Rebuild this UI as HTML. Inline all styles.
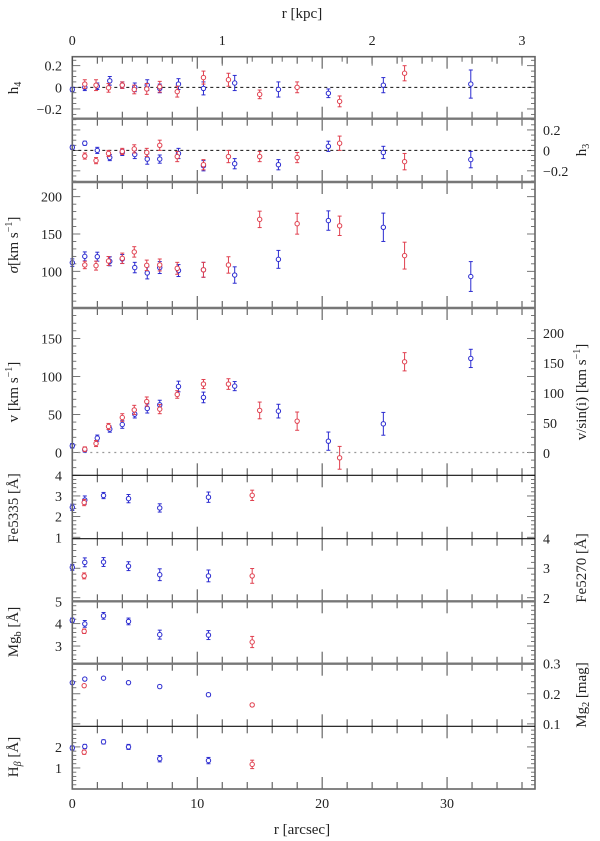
<!DOCTYPE html>
<html><head><meta charset="utf-8"><style>
html,body{margin:0;padding:0;background:#fff;}
svg{display:block;}
text{font-family:"Liberation Serif",serif;fill:#222;}
</style></head><body>
<svg id="chart" width="600" height="841" viewBox="0 0 600 841" xmlns="http://www.w3.org/2000/svg"></svg>
<script>
// ---- shared x values (arcsec) ----
const xKinBlue = [0,1.0,2.0,3.0,4.0,5.0,6.0,7.0,8.5,10.5,13.0,16.5,20.5,24.9,31.9];
const xKinRed  = [1.0,1.9,2.9,4.0,4.96,5.96,7.0,8.4,10.5,12.5,15.0,18.0,21.4,26.6];
const xIdxBlue = [0,1.0,2.5,4.5,7.0,10.9];
const xIdxRed  = [0.95,14.4];
// ---- h4 ----
const h4Blue = [-0.02,0,0.01,0.06,0.02,0,0.02,-0.01,0.03,-0.01,0.04,-0.02,-0.055,0.02,0.03];
const h4BlueErr = [0.02,0.03,0.03,0.04,0.03,0.04,0.05,0.04,0.05,0.06,0.07,0.07,0.04,0.07,0.13];
const h4Red = [0.03,0.02,-0.005,0.02,-0.02,-0.015,0.005,-0.04,0.09,0.07,-0.065,0,-0.13,0.13];
const h4RedErr = [0.04,0.05,0.04,0.03,0.04,0.05,0.05,0.05,0.06,0.06,0.04,0.05,0.05,0.07];
// ---- h3 ----
const h3Blue = [0.03,0.07,0,-0.07,-0.02,-0.04,-0.085,-0.085,-0.03,-0.15,-0.13,-0.14,0.04,-0.02,-0.09];
const h3BlueErr = [0.02,0.02,0.03,0.03,0.03,0.04,0.05,0.04,0.05,0.05,0.05,0.05,0.05,0.06,0.08];
const h3Red = [-0.055,-0.1,-0.03,-0.01,0.015,-0.02,0.05,-0.06,-0.14,-0.06,-0.06,-0.07,0.07,-0.11];
const h3RedErr = [0.03,0.03,0.03,0.03,0.04,0.04,0.05,0.05,0.05,0.06,0.05,0.05,0.07,0.08];
// ---- sigma ----
const sigBlue = [111.6,120,119.6,113.4,116.5,105,97.8,105,101,102,95,116,168,159,93];
const sigBlueErr = [5,6,6,6,6,7,8,8,8,10,11,12,13,19,20];
const sigRed = [108.5,107.6,113.8,117.4,126,108,108.5,104,102,108.5,169.6,163.8,161,121];
const sigRedErr = [5,6,6,7,7,7,8,8,10,11,11,14,13,18];
// ---- rotation velocity ----
const velBlue = [8.8,3.5,18.9,30.7,36.8,50.4,57.9,62.7,86.8,72.4,87.3,54.4,14.9,37.7,123.7];
const velBlueErr = [3,3,4,4,5,5,6,6,7,7,6,9,12,15,12];
const velRed = [4.4,11.8,34.2,46,56,67,57,76.3,90,90,55.3,41.2,-7,119.3];
const velRedErr = [3,4,4,5,6,6,6,5,6,7,11,12,15,12];
// ---- line indices ----
const fe5335Blue = [2.45,2.8,3.02,2.87,2.42,2.94];
const fe5335BlueErr = [0.15,0.2,0.15,0.2,0.2,0.25];
const fe5335Red = [2.68,3.03];
const fe5335RedErr = [0.15,0.25];
const fe5270Blue = [3.03,3.2,3.21,3.07,2.78,2.74];
const fe5270BlueErr = [0.1,0.15,0.15,0.15,0.2,0.2];
const fe5270Red = [2.74,2.74];
const fe5270RedErr = [0.1,0.25];
const mgbBlue = [4.15,3.99,4.35,4.1,3.51,3.49];
const mgbBlueErr = [0.1,0.15,0.15,0.15,0.2,0.2];
const mgbRed = [3.66,3.18];
const mgbRedErr = [0.1,0.25];
const mg2Blue = [0.237,0.249,0.252,0.237,0.224,0.197];
const mg2BlueErr = [0.004,0.004,0.004,0.004,0.005,0.005];
const mg2Red = [0.227,0.163];
const mg2RedErr = [0.004,0.005];
const hbBlue = [1.95,2.02,2.24,2.0,1.44,1.35];
const hbBlueErr = [0.1,0.1,0.1,0.12,0.15,0.15];
const hbRed = [1.75,1.17];
const hbRedErr = [0.1,0.2];
// tick labels
const xTickLabels = [0,10,20,30];
const kpcTickLabels = [0,1,2,3];

const NS="http://www.w3.org/2000/svg";
const svg=document.getElementById('chart');
const X0=72.3, X1=535, XMAX=37.04;
function sx(v){return X0+(v/XMAX)*(X1-X0);}
function el(tag,attrs,parent){const e=document.createElementNS(NS,tag);for(const k in attrs)e.setAttribute(k,attrs[k]);(parent||svg).appendChild(e);return e;}
const BLUE="#2b2bd0", RED="#e0404f";

const panels=[
 {name:'h4',top:56.7,bot:118.7,min:-0.29,max:0.283,major:0.2,minor:0.05,side:'L',ticks:[-0.2,0,0.2],fmt:v=>v==0?'0':(v<0?'\u22120.2':'0.2'),zero:'dash',
  series:[[xKinBlue,h4Blue,h4BlueErr,BLUE],[xKinRed,h4Red,h4RedErr,RED]]},
 {name:'h3',top:118.7,bot:182,min:-0.309,max:0.31,major:0.2,minor:0.05,side:'R',ticks:[-0.2,0,0.2],fmt:v=>v==0?'0':(v<0?'\u22120.2':'0.2'),zero:'dash',
  series:[[xKinBlue,h3Blue,h3BlueErr,BLUE],[xKinRed,h3Red,h3RedErr,RED]]},
 {name:'sigma',top:182,bot:308,min:50.8,max:219.7,major:50,minor:10,side:'L',ticks:[100,150,200],fmt:v=>String(v),
  series:[[xKinBlue,sigBlue,sigBlueErr,BLUE],[xKinRed,sigRed,sigRedErr,RED]]},
 {name:'velocity',top:308,bot:475.3,min:-30,max:190,major:50,minor:10,side:'L',ticks:[0,50,100,150],fmt:v=>String(v),zero:'dot',
  series:[[xKinBlue,velBlue,velBlueErr,BLUE],[xKinRed,velRed,velRedErr,RED]]},
 {name:'fe5335',top:475.3,bot:538.7,min:0.93,max:4,major:1,minor:0.2,side:'L',ticks:[1,2,3,4],fmt:v=>String(v),
  series:[[xIdxBlue,fe5335Blue,fe5335BlueErr,BLUE],[xIdxRed,fe5335Red,fe5335RedErr,RED]]},
 {name:'fe5270',top:538.7,bot:601.3,min:1.88,max:4,major:1,minor:0.2,side:'R',ticks:[2,3,4],fmt:v=>String(v),
  series:[[xIdxBlue,fe5270Blue,fe5270BlueErr,BLUE],[xIdxRed,fe5270Red,fe5270RedErr,RED]]},
 {name:'mgb',top:601.3,bot:663.7,min:2.21,max:5,major:1,minor:0.2,side:'L',ticks:[3,4,5],fmt:v=>String(v),
  series:[[xIdxBlue,mgbBlue,mgbBlueErr,BLUE],[xIdxRed,mgbRed,mgbRedErr,RED]]},
 {name:'mg2',top:663.7,bot:726.3,min:0.092,max:0.3,major:0.1,minor:0.02,side:'R',ticks:[0.1,0.2,0.3],fmt:v=>v.toFixed(1),
  series:[[xIdxBlue,mg2Blue,mg2BlueErr,BLUE],[xIdxRed,mg2Red,mg2RedErr,RED]]},
 {name:'hbeta',top:726.3,bot:789,min:0,max:2.98,major:1,minor:0.2,side:'L',ticks:[1,2],fmt:v=>String(v),
  series:[[xIdxBlue,hbBlue,hbBlueErr,BLUE],[xIdxRed,hbRed,hbRedErr,RED]]}
];

panels.forEach(p=>{
  const g=el('g',{});
  
  
  const sy=v=>p.bot-(v-p.min)/(p.max-p.min)*(p.bot-p.top);
  // y ticks both sides
  const start=Math.ceil(p.min/p.minor-1e-6);
  for(let k=start;k*p.minor<=p.max+1e-9;k++){
    const v=k*p.minor; const y=sy(v);
    const isMaj=Math.abs(v/p.major-Math.round(v/p.major))<1e-6;
    const L=isMaj?8:4;
    el('line',{x1:X0,x2:X0+L,y1:y,y2:y,stroke:'#555','stroke-width':0.8},g);
    el('line',{x1:X1,x2:X1-L,y1:y,y2:y,stroke:'#555','stroke-width':0.8},g);
  }
  // x ticks
  for(let a=0;a<=XMAX;a+=2){
    const x=sx(a); const L=(a%10==0)?12:7;
    el('line',{x1:x,x2:x,y1:p.bot,y2:p.bot-L,stroke:'#333','stroke-width':0.9},g);
    el('line',{x1:x,x2:x,y1:p.top,y2:p.top+L,stroke:'#333','stroke-width':0.9},g);
  }
  // tick labels
  p.ticks.forEach(v=>{
    const t=el('text',{x:p.side=='L'?62:543,y:sy(v)+5,'font-size':14,'text-anchor':p.side=='L'?'end':'start'},g);
    t.textContent=p.fmt(v);
    
    
  });
  if(p.zero){
    const zl=el('line',{x1:X0,x2:X1,y1:sy(0),y2:sy(0),stroke:p.zero=='dash'?'#111':'#999','stroke-width':p.zero=='dash'?1:1.2,'stroke-dasharray':p.zero=='dash'?'3,3':'2,4'},g);
    
    
  }
  p.series.forEach((s,si)=>{
    const [xs,ys,es,col]=s;
    for(let i=0;i<ys.length;i++){
      const x=sx(xs[i]), y=sy(ys[i]), y1=sy(ys[i]+es[i]), y2=sy(ys[i]-es[i]);
      const pg=el('g',{stroke:col,fill:'none','stroke-width':1},g);
      
      
      el('line',{x1:x,x2:x,y1:y1,y2:y2},pg);
      el('line',{x1:x-2,x2:x+2,y1:y1,y2:y1},pg);
      el('line',{x1:x-2,x2:x+2,y1:y2,y2:y2},pg);
      el('circle',{cx:x,cy:y,r:2.2,fill:'#fff'},pg);
    }
  });
});

// frame
const fr=el('rect',{x:X0,y:56.7,width:X1-X0,height:789-56.7,fill:'none',stroke:'#666','stroke-width':1.6});


[[118.7,'#777',2.4],[182,'#777',2.4],[308,'#777',2.4],[475.3,'#111',1.2],[538.7,'#111',1.2],[601.3,'#777',2.4],[663.7,'#777',2.4],[726.3,'#111',1.2]].forEach(b=>{
  const l=el('line',{x1:X0,x2:X1,y1:b[0],y2:b[0],stroke:b[1],'stroke-width':b[2]});
  
  
});
// top kpc axis
const KPC=12.0;
for(let k=0;k*KPC<=XMAX+0.01;k+=0.2){
  const x=sx(k*KPC); const maj=Math.abs(k-Math.round(k))<1e-6;
  el('line',{x1:x,x2:x,y1:56.7,y2:56.7+(maj?9:5),stroke:'#444','stroke-width':0.8});
}
kpcTickLabels.forEach(v=>{
  const t=el('text',{x:sx(v*KPC),y:45,'font-size':14,'text-anchor':'middle'});
  t.textContent=String(v);
  
  
});
xTickLabels.forEach(v=>{
  const t=el('text',{x:sx(v),y:808,'font-size':14,'text-anchor':'middle'});
  t.textContent=String(v);
  
  
});
</script>
<svg width="600" height="841" style="position:absolute;left:0;top:0;pointer-events:none" xmlns="http://www.w3.org/2000/svg">
<text x="302" y="18" font-size="15" text-anchor="middle" style="font-family:'Liberation Serif',serif">r [kpc]</text>
<text x="302" y="834" font-size="15" text-anchor="middle" style="font-family:'Liberation Serif',serif">r [arcsec]</text>
<text transform="translate(18,88) rotate(-90)" font-size="15" text-anchor="middle" style="font-family:'Liberation Serif',serif">h<tspan font-size="10" dy="3">4</tspan></text>
<text transform="translate(18,245) rotate(-90)" font-size="15" text-anchor="middle" style="font-family:'Liberation Serif',serif"><tspan font-style="italic">σ</tspan>[km s<tspan font-size="10" dy="-6">−1</tspan><tspan dy="6">]</tspan></text>
<text transform="translate(18,392) rotate(-90)" font-size="15" text-anchor="middle" style="font-family:'Liberation Serif',serif">v [km s<tspan font-size="10" dy="-6">−1</tspan><tspan dy="6">]</tspan></text>
<text transform="translate(18,508) rotate(-90)" font-size="15" text-anchor="middle" style="font-family:'Liberation Serif',serif">Fe5335 [Å]</text>
<text transform="translate(18,632) rotate(-90)" font-size="15" text-anchor="middle" style="font-family:'Liberation Serif',serif">Mg<tspan font-size="10" dy="3">b</tspan><tspan dy="-3"> [Å]</tspan></text>
<text transform="translate(18,757) rotate(-90)" font-size="15" text-anchor="middle" style="font-family:'Liberation Serif',serif">H<tspan font-size="10" dy="3" font-style="italic">β</tspan><tspan dy="-3"> [Å]</tspan></text>
<text transform="translate(586,150) rotate(-90)" font-size="15" text-anchor="middle" style="font-family:'Liberation Serif',serif">h<tspan font-size="10" dy="3">3</tspan></text>
<text transform="translate(586,392) rotate(-90)" font-size="15" text-anchor="middle" style="font-family:'Liberation Serif',serif">v/sin(i) [km s<tspan font-size="10" dy="-6">−1</tspan><tspan dy="6">]</tspan></text>
<text transform="translate(586,568) rotate(-90)" font-size="15" text-anchor="middle" style="font-family:'Liberation Serif',serif">Fe5270 [Å]</text>
<text transform="translate(586,695) rotate(-90)" font-size="15" text-anchor="middle" style="font-family:'Liberation Serif',serif">Mg<tspan font-size="10" dy="3">2</tspan><tspan dy="-3"> [mag]</tspan></text>
<g font-size="14" style="font-family:'Liberation Serif',serif">
<text x="543" y="458">0</text><text x="543" y="428">50</text><text x="543" y="398">100</text><text x="543" y="368">150</text><text x="543" y="338">200</text>
</g>
</svg>
</body></html>
